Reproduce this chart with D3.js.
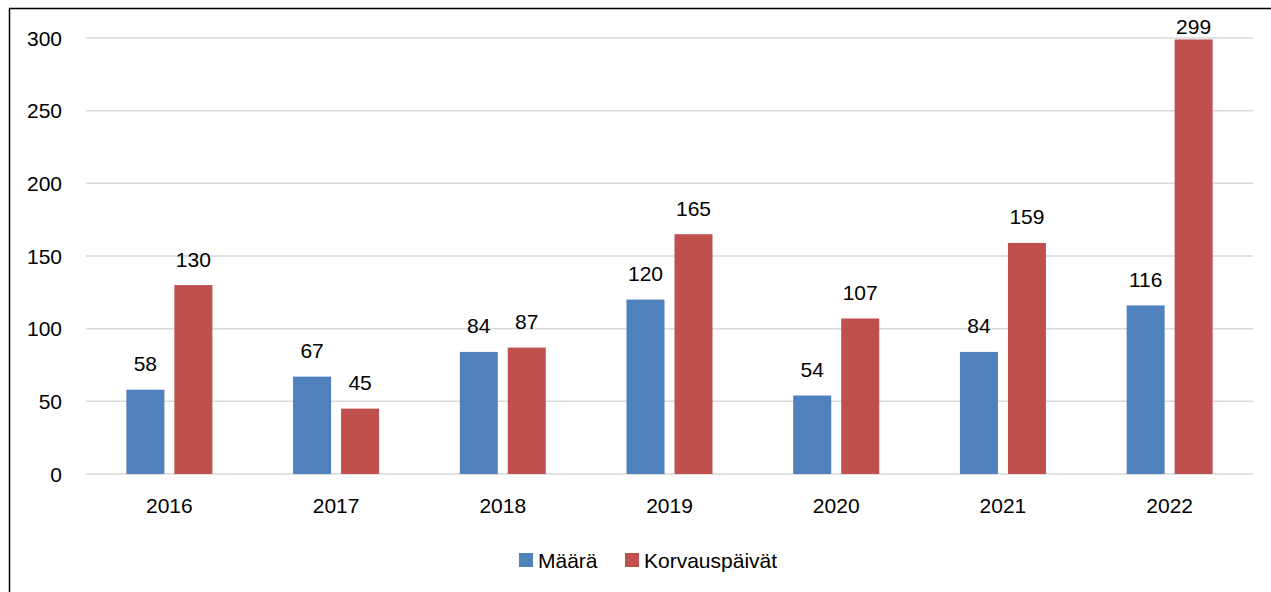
<!DOCTYPE html>
<html>
<head>
<meta charset="utf-8">
<script src="https://cdn.jsdelivr.net/npm/d3@7"></script>
<style>
  body { margin: 0; background: #fff; }
  svg text { font-family: "Liberation Sans", Arial, sans-serif; fill: #000; }
</style>
</head>
<body>
<div id="chart"></div>
<script>
// data
var years = ["2016", "2017", "2018", "2019", "2020", "2021", "2022"];
var seriesNames = ["Määrä", "Korvauspäivät"];
var maara = [58, 67, 84, 120, 54, 84, 116];
var korvauspaivat = [130, 45, 87, 165, 107, 159, 299];
var yTicks = [0, 50, 100, 150, 200, 250, 300];
var colors = ["#4f81bd", "#c0504d"];

var width = 1271, height = 592;
var plot = {left: 86, right: 1253, top: 38, bottom: 474};

var svg = d3.select("#chart").append("svg")
  .attr("width", width).attr("height", height);

// outer frame (only left and top edges show)
svg.append("line").attr("x1", 9.5).attr("x2", 9.5).attr("y1", 8).attr("y2", height)
  .attr("stroke", "#000").attr("stroke-width", 1.5);
svg.append("line").attr("x1", 9).attr("x2", width).attr("y1", 8.5).attr("y2", 8.5)
  .attr("stroke", "#000").attr("stroke-width", 1.5);

var x0 = d3.scaleBand().domain(years).range([plot.left, plot.right]);
var x1 = d3.scaleBand().domain(seriesNames).range([0, 86]).paddingInner(0.208);
var y = d3.scaleLinear().domain([0, 300]).range([plot.bottom, plot.top]);

// gridlines
svg.append("g").selectAll("line").data(yTicks).enter().append("line")
  .attr("x1", plot.left).attr("x2", plot.right)
  .attr("y1", function(d){ return y(d); }).attr("y2", function(d){ return y(d); })
  .attr("stroke", "#d9d9d9").attr("stroke-width", 1.5);

// y tick labels
svg.append("g").selectAll("text").data(yTicks).enter().append("text")
  .attr("x", 62).attr("y", function(d){ return y(d); })
  .attr("dy", "0.36em").attr("text-anchor", "end")
  .style("font-size", "21px")
  .text(function(d){ return d; });

// x labels
svg.append("g").selectAll("text").data(years).enter().append("text")
  .attr("x", function(d){ return x0(d) + x0.bandwidth()/2; })
  .attr("y", 513).attr("text-anchor", "middle")
  .style("font-size", "21px")
  .text(function(d){ return d; });

var rows = [];
years.forEach(function(yr, i){
  rows.push({year: yr, s: seriesNames[0], v: maara[i], c: colors[0]});
  rows.push({year: yr, s: seriesNames[1], v: korvauspaivat[i], c: colors[1]});
});

function barX(d){
  return x0(d.year) + x0.bandwidth()/2 - 43 + x1(d.s);
}

svg.append("g").selectAll("rect").data(rows).enter().append("rect")
  .attr("x", barX)
  .attr("y", function(d){ return y(d.v); })
  .attr("width", x1.bandwidth())
  .attr("height", function(d){ return y(0) - y(d.v); })
  .attr("fill", function(d){ return d.c; });

// value labels, pushed down when they would leave the chart
svg.append("g").selectAll("text").data(rows).enter().append("text")
  .attr("x", function(d){ return barX(d) + x1.bandwidth()/2; })
  .attr("y", function(d){ return Math.max(y(d.v) - 26, 26); })
  .attr("dy", "0.36em").attr("text-anchor", "middle")
  .style("font-size", "21px")
  .text(function(d){ return d.v; });

// legend
var legend = svg.append("g");
var lx = [519, 625];
seriesNames.forEach(function(name, i){
  legend.append("rect").attr("x", lx[i]).attr("y", 553).attr("width", 14).attr("height", 14)
    .attr("fill", colors[i]);
  legend.append("text").attr("x", lx[i] + 19).attr("y", 560).attr("dy", "0.36em")
    .style("font-size", "21px").text(name);
});
</script>
</body>
</html>
